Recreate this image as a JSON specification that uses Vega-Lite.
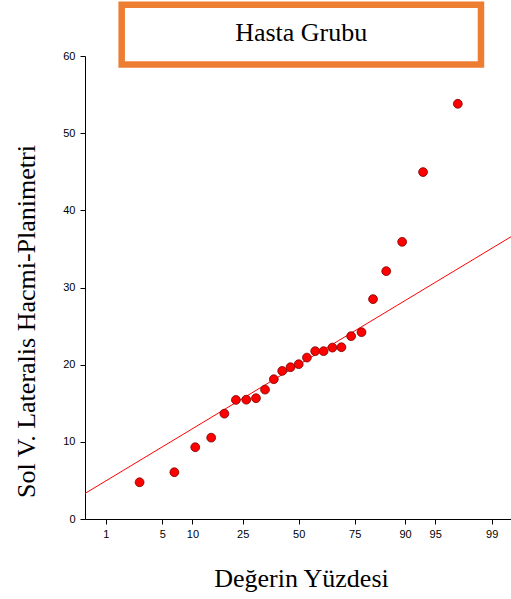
{
  "$schema": "https://vega.github.io/schema/vega-lite/v6.json",
  "width": 426,
  "height": 463,
  "autosize": {"type": "none"},
  "padding": {"left": 85, "top": 56, "right": 0, "bottom": 80},
  "background": "white",
  "config": {
    "view": {"stroke": null},
    "axis": {
      "grid": false,
      "domainColor": "black",
      "tickColor": "black",
      "tickSize": 5,
      "labelFont": "Liberation Sans",
      "labelFontSize": 11,
      "labelColor": "black",
      "titleFont": "Liberation Serif",
      "titleFontSize": 26,
      "titleFontWeight": "normal",
      "titleColor": "black"
    }
  },
  "layer": [
    {
      "data": {"values": [{"z": -2.576, "v": 3.31}, {"z": 2.559, "v": 36.58}]},
      "mark": {"type": "line", "color": "#FF0000", "strokeWidth": 1, "clip": true},
      "encoding": {
        "x": {
          "field": "z", "type": "quantitative",
          "scale": {"domain": [-2.576, 2.559], "nice": false, "zero": false},
          "axis": {
            "values": [-2.3263, -1.6449, -1.2816, -0.6745, 0, 0.6745, 1.2816, 1.6449, 2.3263],
            "labelExpr": "format(cumulativeNormal(datum.value) * 100, '.0f')",
            "labelPadding": 4,
            "title": "Değerin Yüzdesi",
            "titleX": 216,
            "titleY": 67,
            "titleAlign": "center",
            "titleBaseline": "alphabetic"
          }
        },
        "y": {
          "field": "v", "type": "quantitative",
          "scale": {"domain": [0, 60], "nice": false},
          "axis": {
            "values": [0, 10, 20, 30, 40, 50, 60],
            "labelPadding": 5,
            "title": "Sol V. Lateralis Hacmi-Planimetri",
            "titleX": -51,
            "titleY": 265,
            "titleAlign": "center",
            "titleBaseline": "alphabetic"
          }
        }
      }
    },
    {
      "data": {"values": [
        {"z": -1.918, "v": 4.76},
        {"z": -1.499, "v": 6.06},
        {"z": -1.247, "v": 9.30},
        {"z": -1.055, "v": 10.54},
        {"z": -0.896, "v": 13.65},
        {"z": -0.757, "v": 15.43},
        {"z": -0.632, "v": 15.46},
        {"z": -0.515, "v": 15.65},
        {"z": -0.406, "v": 16.77},
        {"z": -0.300, "v": 18.11},
        {"z": -0.199, "v": 19.19},
        {"z": -0.099, "v": 19.67},
        {"z": 0.0, "v": 20.06},
        {"z": 0.099, "v": 20.92},
        {"z": 0.199, "v": 21.75},
        {"z": 0.300, "v": 21.75},
        {"z": 0.406, "v": 22.21},
        {"z": 0.515, "v": 22.26},
        {"z": 0.632, "v": 23.69},
        {"z": 0.757, "v": 24.21},
        {"z": 0.896, "v": 28.49},
        {"z": 1.055, "v": 32.12},
        {"z": 1.247, "v": 35.92},
        {"z": 1.499, "v": 44.96},
        {"z": 1.918, "v": 53.81}
      ]},
      "mark": {"type": "circle", "size": 78, "fill": "#FF0000", "stroke": "#7A0000", "strokeWidth": 0.8, "opacity": 1},
      "encoding": {
        "x": {"field": "z", "type": "quantitative"},
        "y": {"field": "v", "type": "quantitative"}
      }
    },
    {
      "data": {"values": [{}]},
      "mark": {"type": "rect", "fill": "white", "stroke": "#ED7D31", "strokeWidth": 6.5},
      "encoding": {
        "x": {"datum": -2.134},
        "x2": {"datum": 2.197},
        "y": {"datum": 58.9},
        "y2": {"datum": 66.65}
      }
    },
    {
      "data": {"values": [{}]},
      "mark": {"type": "text", "text": "Hasta Grubu", "font": "Liberation Serif", "fontSize": 26, "align": "center", "baseline": "alphabetic", "color": "black"},
      "encoding": {
        "x": {"datum": 0.03},
        "y": {"datum": 61.9}
      }
    }
  ]
}
